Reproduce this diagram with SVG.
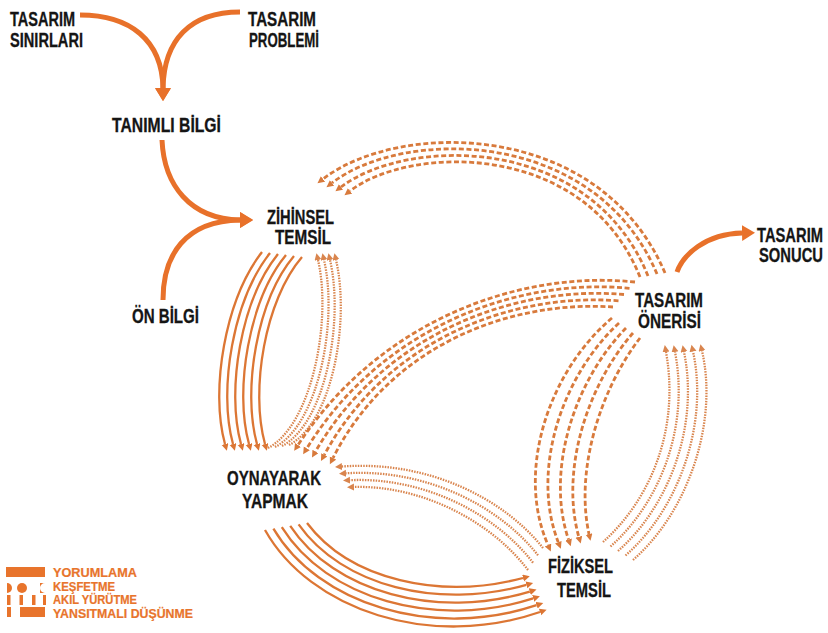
<svg xmlns="http://www.w3.org/2000/svg" width="828" height="633" viewBox="0 0 828 633">
<style>
.lbl{font-family:"Liberation Sans",Arial,sans-serif;font-weight:bold;font-size:19.5px;fill:#151515;stroke:#151515;stroke-width:0.3}
.leg{font-family:"Liberation Sans",Arial,sans-serif;font-weight:bold;font-size:12px;fill:#E8742C;stroke:#E8742C;stroke-width:0.2}
.big{fill:none;stroke:#E8712A;stroke-width:5}
.solid{fill:none;stroke:#DC7634;stroke-width:2.3}
.dash{fill:none;stroke:#D87A3C;stroke-width:2.8;stroke-dasharray:5 2.6}
.dot{fill:none;stroke:#D9854E;stroke-width:2.3;stroke-dasharray:1.5 1.2}
.legf{fill:#E8742C}
</style>
<defs>
<marker id="mb" markerUnits="userSpaceOnUse" markerWidth="16" markerHeight="18" refX="0" refY="8.5" orient="auto"><path d="M0,0.5 L13,8.5 L0,16.5 z" fill="#E8712A"/></marker>
<marker id="ms" markerUnits="userSpaceOnUse" markerWidth="8" markerHeight="8" refX="0" refY="3.5" orient="auto"><path d="M0,0 L7,3.5 L0,7 z" fill="#DC7634"/></marker>
<marker id="md" markerUnits="userSpaceOnUse" markerWidth="8" markerHeight="8" refX="0" refY="3.5" orient="auto"><path d="M0,0 L7,3.5 L0,7 z" fill="#D87A3C"/></marker>
<marker id="mt" markerUnits="userSpaceOnUse" markerWidth="8" markerHeight="8" refX="0" refY="3.5" orient="auto"><path d="M0,0 L7,3.5 L0,7 z" fill="#D9854E"/></marker>
</defs>
<rect width="828" height="633" fill="#ffffff"/>

<g id="connectors">
<path class="big" d="M80,15 C130,15 162,40 163,88" marker-end="url(#mb)"/>
<path class="big" d="M240,12 C190,12 164,40 163,88" marker-end="url(#mb)"/>
<path class="big" d="M162,140 C164,185 190,219 240,220" marker-end="url(#mb)"/>
<path class="big" d="M163,300 C163,255 185,221 240,220" marker-end="url(#mb)"/>
<path class="big" d="M677,272 C683,255 705,234 742,233" marker-end="url(#mb)"/>

<g marker-end="url(#ms)">
<path class="solid" d="M262,252 C225,300 210,390 225,444"/>
<path class="solid" d="M270,253 C233,300 218,390 233,444"/>
<path class="solid" d="M278,254 C241,300 226,390 241,444"/>
<path class="solid" d="M286,255 C249,300 234,390 249,444"/>
<path class="solid" d="M294,256 C257,300 242,390 257,444"/>
<path class="solid" d="M302,257 C265,300 250,390 265,444"/>
</g>
<g marker-end="url(#mt)">
<path class="dot" d="M268,448 C312,425 332,320 318,260"/>
<path class="dot" d="M275,447 C319,424 338,320 324,260"/>
<path class="dot" d="M282,446 C326,423 344,320 330,260"/>
<path class="dot" d="M289,445 C333,422 350,320 336,260"/>
</g>
<g marker-end="url(#md)">
<path class="dash" d="M665,273 C600,120 400,120 323,179"/>
<path class="dash" d="M657,274 C595,127 403,128 332,183"/>
<path class="dash" d="M648,276 C590,133 407,137 341,187"/>
<path class="dash" d="M640,277 C585,140 410,145 350,191"/>
</g>
<g marker-end="url(#md)">
<path class="dash" d="M635,282 C520,270 380,320 298,445"/>
<path class="dash" d="M629.5,288.3 C517.5,277.5 382.5,326.3 306.8,448.3"/>
<path class="dash" d="M624,294.5 C515,285 385,332.5 315.5,451.5"/>
<path class="dash" d="M618.5,300.8 C512.5,292.5 387.5,338.8 324.3,454.8"/>
<path class="dash" d="M613,307 C510,300 390,345 333,458"/>
</g>
<g marker-end="url(#md)">
<path class="dash" d="M612,318 C550,370 515,470 548,545"/>
<path class="dash" d="M619,323 C562.5,375 530,470 558.3,542.3"/>
<path class="dash" d="M626,328 C575,380 545,470 568.5,539.5"/>
<path class="dash" d="M633,333 C587.5,385 560,470 578.8,536.8"/>
<path class="dash" d="M640,338 C600,390 575,470 589,534"/>
</g>
<g marker-end="url(#mt)">
<path class="dot" d="M603,542 C650,500 680,430 666,352"/>
<path class="dot" d="M610.5,546.5 C660,502.5 689.5,427.5 675,352"/>
<path class="dot" d="M618,551 C670,505 699,425 684,352"/>
<path class="dot" d="M625.5,555.5 C680,507.5 708.5,422.5 693,351.5"/>
<path class="dot" d="M633,560 C690,510 718,420 702,351"/>
</g>
<g marker-end="url(#mt)">
<path class="dot" d="M543,548 C505,500 430,460 342,466.5"/>
<path class="dot" d="M538,555.3 C500,506.7 426.7,468.3 346,473.3"/>
<path class="dot" d="M533,562.7 C495,513.3 423.3,476.7 350,480.2"/>
<path class="dot" d="M528,570 C490,520 420,485 354,487"/>
</g>
<g marker-end="url(#ms)">
<path class="solid" d="M265,530 C310,610 430,650 540,612"/>
<path class="solid" d="M273.4,528.6 C318,604 432,640 536.6,605.2"/>
<path class="solid" d="M281.8,527.2 C326,598 434,630 533.2,598.4"/>
<path class="solid" d="M290.2,525.8 C334,592 436,620 529.8,591.6"/>
<path class="solid" d="M298.6,524.4 C342,586 438,610 526.4,584.8"/>
<path class="solid" d="M307,523 C350,580 440,600 523,578"/>
</g>
</g>

<g id="tasarim-sinirlari">
<text class="lbl" x="10" y="26" textLength="65" lengthAdjust="spacingAndGlyphs">TASARIM</text>
<text class="lbl" x="10" y="47" textLength="73" lengthAdjust="spacingAndGlyphs">SINIRLARI</text>
</g>
<g id="tasarim-problemi">
<text class="lbl" x="248" y="26" textLength="68" lengthAdjust="spacingAndGlyphs">TASARIM</text>
<text class="lbl" x="249" y="47" textLength="70" lengthAdjust="spacingAndGlyphs">PROBLEMİ</text>
</g>
<g id="tanimli-bilgi">
<text class="lbl" x="112" y="132" textLength="109" lengthAdjust="spacingAndGlyphs">TANIMLI BİLGİ</text>
</g>
<g id="zihinsel-temsil">
<text class="lbl" x="267" y="224" textLength="67" lengthAdjust="spacingAndGlyphs">ZİHİNSEL</text>
<text class="lbl" x="275" y="244" textLength="56" lengthAdjust="spacingAndGlyphs">TEMSİL</text>
</g>
<g id="on-bilgi">
<text class="lbl" x="132" y="323" textLength="67" lengthAdjust="spacingAndGlyphs">ÖN BİLGİ</text>
</g>
<g id="tasarim-onerisi">
<text class="lbl" x="635" y="307" textLength="68" lengthAdjust="spacingAndGlyphs">TASARIM</text>
<text class="lbl" x="638" y="328" textLength="63" lengthAdjust="spacingAndGlyphs">ÖNERİSİ</text>
</g>
<g id="tasarim-sonucu">
<text class="lbl" x="823" y="242" text-anchor="end" textLength="66" lengthAdjust="spacingAndGlyphs">TASARIM</text>
<text class="lbl" x="823" y="262" text-anchor="end" textLength="64" lengthAdjust="spacingAndGlyphs">SONUCU</text>
</g>
<g id="oynayarak-yapmak">
<text class="lbl" x="227" y="485" textLength="94" lengthAdjust="spacingAndGlyphs">OYNAYARAK</text>
<text class="lbl" x="242" y="508" textLength="66" lengthAdjust="spacingAndGlyphs">YAPMAK</text>
</g>
<g id="fiziksel-temsil">
<text class="lbl" x="548" y="573" textLength="65" lengthAdjust="spacingAndGlyphs">FİZİKSEL</text>
<text class="lbl" x="557" y="597" textLength="54" lengthAdjust="spacingAndGlyphs">TEMSİL</text>
</g>

<g id="legend">
<rect class="legf" x="6" y="567" width="39" height="10"/>
<path class="legf" d="M7,583 A5,5 0 0 1 7,593 z"/>
<circle class="legf" cx="22" cy="588" r="5"/>
<path class="legf" d="M45,583 A5,5 0 0 0 45,593 z M40,583 h5 v10 h-5 z"/>
<rect class="legf" x="7" y="595" width="3.5" height="10"/>
<rect class="legf" x="19.5" y="595" width="3.5" height="10"/>
<rect class="legf" x="32" y="595" width="3.5" height="10"/>
<rect class="legf" x="43" y="595" width="3" height="10"/>
<rect class="legf" x="7" y="607" width="4" height="10"/>
<rect class="legf" x="20" y="607" width="25" height="10"/>
<text class="leg" x="53" y="577" textLength="84" lengthAdjust="spacingAndGlyphs">YORUMLAMA</text>
<text class="leg" x="53" y="590.5" textLength="62" lengthAdjust="spacingAndGlyphs">KEŞFETME</text>
<text class="leg" x="53" y="604" textLength="84" lengthAdjust="spacingAndGlyphs">AKIL YÜRÜTME</text>
<text class="leg" x="53" y="617.5" textLength="140" lengthAdjust="spacingAndGlyphs">YANSITMALI DÜŞÜNME</text>
</g>
</svg>
